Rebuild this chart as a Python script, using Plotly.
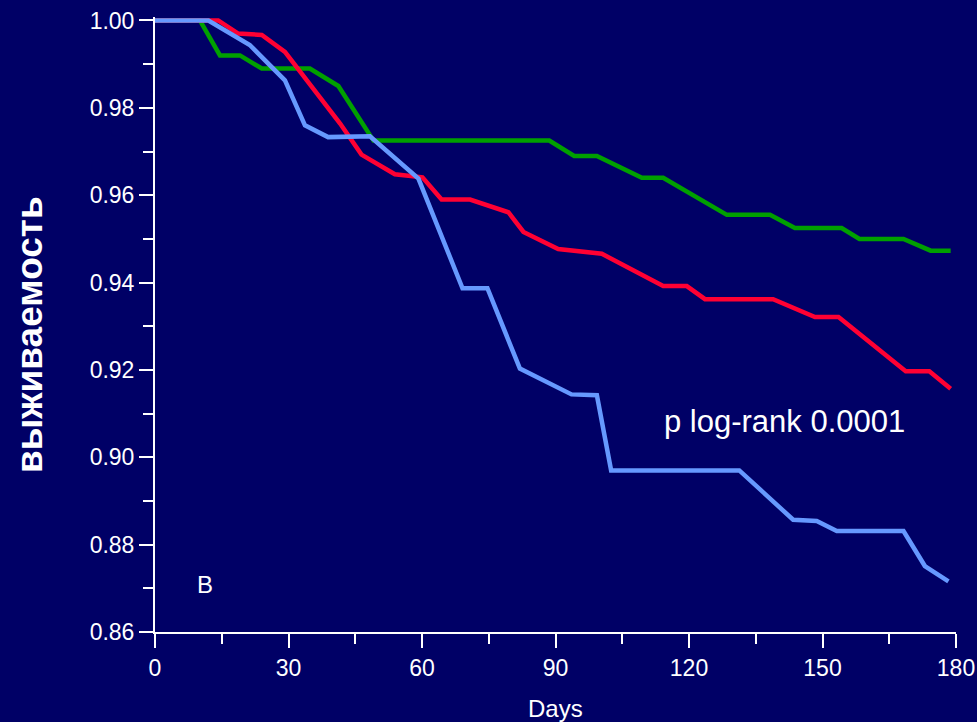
import plotly.graph_objects as go

# Data (days, survival)
green_days = [0, 10.1, 14.6, 19.1, 24.0, 34.8, 41.2, 49.1, 88.6, 94.2, 99.3, 109.4, 114.2,
              128.5, 138.2, 143.8, 154.3, 158.3, 168.2, 174.3, 178.8]
green_surv = [1.0, 1.0, 0.992, 0.992, 0.989, 0.989, 0.985, 0.9725, 0.9725, 0.969, 0.969, 0.964,
              0.964, 0.9555, 0.9555, 0.9525, 0.9525, 0.950, 0.950, 0.9473, 0.9473]

red_days = [0, 14.2, 18.7, 24.0, 29.2, 41.6, 46.4, 53.9, 60.1, 64.4, 70.8, 79.4, 82.8, 90.6,
            100.4, 114.2, 119.5, 123.6, 138.9, 148.3, 153.6, 168.7, 174.0, 178.8]
red_surv = [1.0, 1.0, 0.997, 0.9967, 0.9928, 0.9764, 0.9693, 0.9648, 0.9641, 0.959, 0.959,
            0.9561, 0.9516, 0.9477, 0.9466, 0.9392, 0.9392, 0.9362, 0.9362, 0.9321, 0.9321,
            0.9197, 0.9197, 0.9157]

blue_days = [0, 12.0, 21.3, 29.2, 33.7, 38.9, 48.3, 59.2, 69.1, 74.7, 82.0, 93.6, 99.3, 102.5,
             131.3, 143.4, 148.7, 153.2, 168.2, 173.0, 178.3]
blue_surv = [1.0, 1.0, 0.9944, 0.9863, 0.976, 0.9733, 0.9735, 0.9638, 0.9387, 0.9387, 0.9203,
             0.9144, 0.9142, 0.897, 0.897, 0.8857, 0.8854, 0.8831, 0.8831, 0.8751, 0.8716]

x_ticks = [0, 30, 60, 90, 120, 150, 180]
y_ticks = [0.86, 0.88, 0.90, 0.92, 0.94, 0.96, 0.98, 1.00]

BG = "#000066"
FONT = "Liberation Sans, Arial, sans-serif"

fig = go.Figure()
for xs, ys, col in [(green_days, green_surv, "#00A000"),
                    (red_days, red_surv, "#FF0033"),
                    (blue_days, blue_surv, "#6699FF")]:
    fig.add_trace(go.Scatter(x=xs, y=ys, mode="lines",
                             line=dict(color=col, width=4.5), showlegend=False,
                             hoverinfo="skip"))

axis_common = dict(showgrid=False, zeroline=False, showline=True, linecolor="white",
                   linewidth=2, ticks="outside", tickcolor="white", tickwidth=2,
                   ticklen=14, automargin=False,
                   tickfont=dict(color="white", size=23, family=FONT))

fig.update_xaxes(range=[0, 180], tickvals=x_ticks, ticktext=[str(v) for v in x_ticks],
                 minor=dict(dtick=15, tick0=0, ticks="outside", ticklen=10,
                            tickcolor="white", tickwidth=2),
                 **axis_common)
fig.update_yaxes(range=[0.86, 1.0008], tickvals=y_ticks,
                 ticktext=[f"{v:.2f}" for v in y_ticks],
                 minor=dict(dtick=0.01, tick0=0.86, ticks="outside", ticklen=10,
                            tickcolor="white", tickwidth=2),
                 **axis_common)

fig.add_annotation(text="выживаемость", xref="paper", yref="paper", x=-0.156, y=0.483,
                   textangle=-90, showarrow=False, xanchor="center", yanchor="middle",
                   font=dict(color="white", size=37, family=FONT, weight="bold"))
fig.add_annotation(text="Days", xref="paper", yref="paper", x=0.5006, y=-0.1236,
                   showarrow=False, xanchor="center", yanchor="middle",
                   font=dict(color="white", size=24, family=FONT))
fig.add_annotation(text="B", xref="x", yref="y", x=11.2, y=0.8709,
                   showarrow=False, xanchor="center", yanchor="middle",
                   font=dict(color="white", size=24, family=FONT))
fig.add_annotation(text="p log-rank 0.0001", xref="x", yref="y", x=114.0, y=0.9082,
                   showarrow=False, xanchor="left", yanchor="middle",
                   font=dict(color="white", size=31, family=FONT))

fig.update_layout(width=977, height=722, paper_bgcolor=BG, plot_bgcolor=BG,
                  margin=dict(l=155, r=21, t=17, b=90, pad=0),
                  font=dict(family=FONT, color="white"))

fig.write_html("out.html", config={"displayModeBar": False})
